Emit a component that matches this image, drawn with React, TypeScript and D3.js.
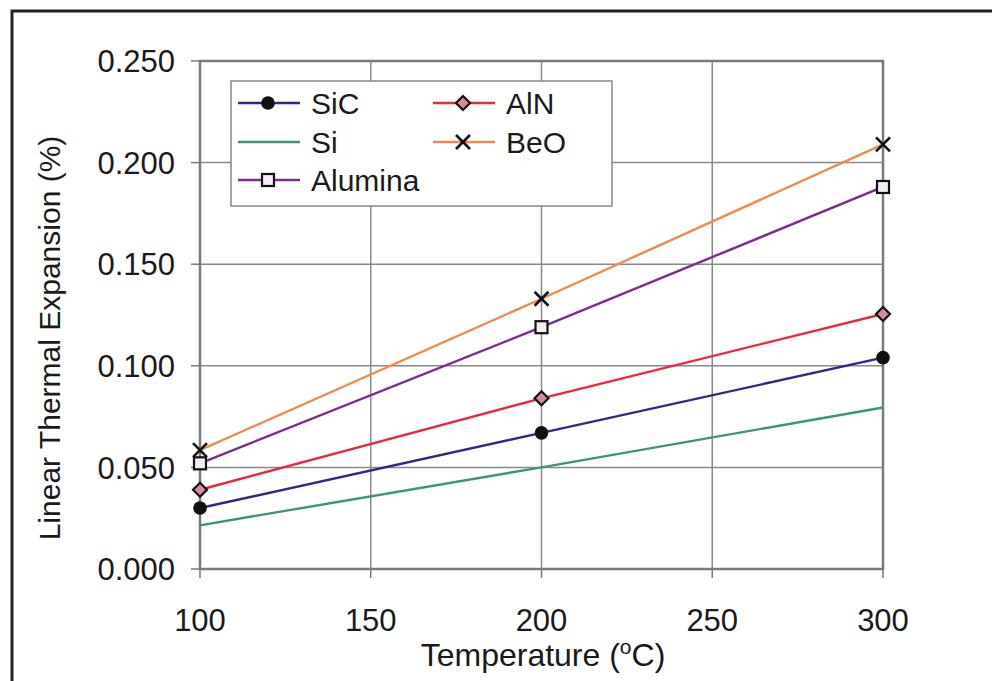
import React from "react";
import * as d3 from "d3";

const temperatures = [100, 200, 300];
const sicValues = [0.03, 0.067, 0.104];
const siValues = [0.0215, 0.05, 0.0795];
const alnValues = [0.039, 0.084, 0.1255];
const beoValues = [0.0585, 0.133, 0.209];
const aluminaValues = [0.052, 0.119, 0.188];
const seriesNames = ["SiC", "Si", "Alumina", "AlN", "BeO"];
const xTicks = [100, 150, 200, 250, 300];
const yTicks = [0, 0.05, 0.1, 0.15, 0.2, 0.25];

const width = 992;
const height = 681;
const left = 200;
const right = 883;
const top = 61;
const bottom = 569;
const font = "Arial, 'Liberation Sans', sans-serif";

const x = d3.scaleLinear().domain([100, 300]).range([left, right]);
const y = d3.scaleLinear().domain([0, 0.25]).range([bottom, top]);

const series = [
  { name: "SiC", values: sicValues, color: "#2b2a88", marker: "circle" },
  { name: "Si", values: siValues, color: "#3d9474", marker: "none" },
  { name: "Alumina", values: aluminaValues, color: "#7b2d8e", marker: "square" },
  { name: "AlN", values: alnValues, color: "#e8283c", marker: "diamond" },
  { name: "BeO", values: beoValues, color: "#f28a4c", marker: "x" },
];

const Marker = ({ type, cx, cy }: { type: string; cx: number; cy: number }) => {
  if (type === "circle") return <circle cx={cx} cy={cy} r={6.8} fill="#111" />;
  if (type === "square")
    return (
      <rect x={cx - 6} y={cy - 6} width={12} height={12} fill="#f4eef4" stroke="#111" strokeWidth={2.2} />
    );
  if (type === "diamond")
    return (
      <path
        d={`M${cx},${cy - 7}L${cx + 7},${cy}L${cx},${cy + 7}L${cx - 7},${cy}Z`}
        fill="#d98a9a"
        stroke="#111"
        strokeWidth={2.2}
      />
    );
  if (type === "x")
    return (
      <path
        d={`M${cx - 7},${cy - 7}L${cx + 7},${cy + 7}M${cx - 7},${cy + 7}L${cx + 7},${cy - 7}`}
        stroke="#111"
        strokeWidth={2.6}
      />
    );
  return null;
};

const App = () => {
  const line = d3
    .line<number>()
    .x((_, i) => x(temperatures[i]))
    .y((d) => y(d));

  const legendPos: Record<string, [number, number]> = {
    SiC: [238, 103],
    Si: [238, 142],
    Alumina: [238, 180],
    AlN: [433, 103],
    BeO: [433, 142],
  };

  return (
    <svg
      width={width}
      height={height}
      style={{ position: "absolute", left: 0, top: 0, background: "#fff" }}
      fontFamily={font}
    >
      <rect width={width} height={height} fill="#fff" />
      {/* outer frame: only top and left edges show */}
      <path d={`M12,${height}L12,11L${width},11`} fill="none" stroke="#222" strokeWidth={3} />

      {/* grid */}
      {xTicks.slice(1, -1).map((t) => (
        <line key={"gx" + t} x1={x(t)} x2={x(t)} y1={top} y2={bottom} stroke="#8a8a8a" strokeWidth={1.5} />
      ))}
      {yTicks.slice(1, -1).map((t) => (
        <line key={"gy" + t} x1={left} x2={right} y1={y(t)} y2={y(t)} stroke="#8a8a8a" strokeWidth={1.5} />
      ))}
      <rect x={left} y={top} width={right - left} height={bottom - top} fill="none" stroke="#7a7a7a" strokeWidth={2.5} />

      {/* ticks */}
      {yTicks.map((t) => (
        <g key={"ty" + t}>
          <line x1={left - 9} x2={left} y1={y(t)} y2={y(t)} stroke="#7a7a7a" strokeWidth={1.5} />
          <text x={175} y={y(t)} dy="0.36em" textAnchor="end" fontSize={31} fill="#1a1a1a">
            {d3.format(".3f")(t)}
          </text>
        </g>
      ))}
      {xTicks.map((t) => (
        <g key={"tx" + t}>
          <line x1={x(t)} x2={x(t)} y1={bottom} y2={bottom + 9} stroke="#7a7a7a" strokeWidth={1.5} />
          <text x={x(t)} y={631} textAnchor="middle" fontSize={31} fill="#1a1a1a">
            {t}
          </text>
        </g>
      ))}

      {/* axis titles */}
      <text x={543} y={666} textAnchor="middle" fontSize={32} fill="#1a1a1a">
        Temperature (<tspan fontSize={21} dy={-12}>o</tspan>
        <tspan dy={12}>C)</tspan>
      </text>
      <text
        transform={`translate(60,338) rotate(-90)`}
        textAnchor="middle"
        fontSize={30}
        fill="#1a1a1a"
      >
        Linear Thermal Expansion (%)
      </text>

      {/* series */}
      {series.map((s) => (
        <g key={s.name}>
          <path d={line(s.values) || ""} fill="none" stroke={s.color} strokeWidth={2.4} />
          {s.values.map((v, i) => (
            <Marker key={i} type={s.marker} cx={x(temperatures[i])} cy={y(v)} />
          ))}
        </g>
      ))}

      {/* legend */}
      <rect x={231} y={81} width={381} height={125} fill="#fff" stroke="#888" strokeWidth={1.5} />
      {seriesNames.map((name) => {
        const s = series.find((d) => d.name === name)!;
        const [lx, ly] = legendPos[name];
        return (
          <g key={"lg" + name}>
            <line x1={lx} x2={lx + 62} y1={ly} y2={ly} stroke={s.color} strokeWidth={2.4} />
            <Marker type={s.marker} cx={lx + 30} cy={ly} />
            <text x={lx + 73} y={ly} dy="0.36em" fontSize={30} fill="#1a1a1a">
              {name}
            </text>
          </g>
        );
      })}
    </svg>
  );
};

export default App;
